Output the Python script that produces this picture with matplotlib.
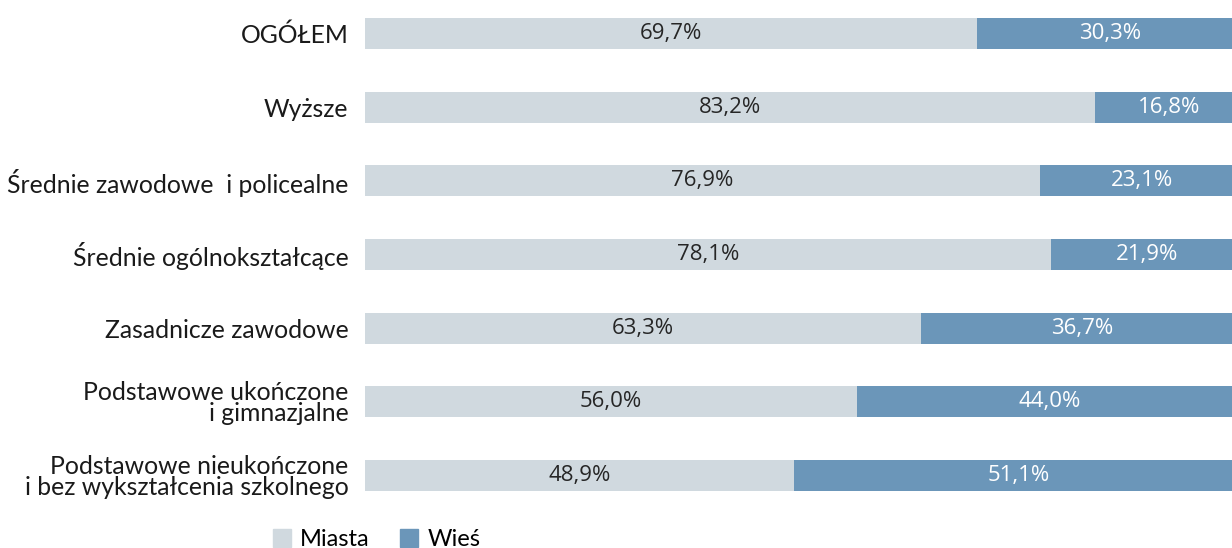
import matplotlib
matplotlib.use("Agg")
import matplotlib.pyplot as plt
from matplotlib.patches import Patch

categories = ["OGÓŁEM", "Wyższe", "Średnie zawodowe  i policealne",
              "Średnie ogólnokształcące", "Zasadnicze zawodowe",
              "Podstawowe ukończone\ni gimnazjalne",
              "Podstawowe nieukończone\ni bez wykształcenia szkolnego"]
miasta = [69.7, 83.2, 76.9, 78.1, 63.3, 56.0, 48.9]
wies = [30.3, 16.8, 23.1, 21.9, 36.7, 44.0, 51.1]
series_names = ["Miasta", "Wieś"]

c_light = "#d0d9df"
c_dark = "#6b96b9"

plt.rcParams['font.family'] = ['Lato', 'DejaVu Sans']

fig = plt.figure(figsize=(12.32, 5.48), dpi=100)
# bars run past the right edge of the picture, as in the original
ax = fig.add_axes([365 / 1232, 1 - 491 / 548, 878 / 1232, (491 - 18) / 548])

ypos = list(range(len(categories)))
ax.barh(ypos, miasta, height=0.42, color=c_light)
ax.barh(ypos, wies, left=miasta, height=0.42, color=c_dark)

def fmt(v):
    return ("%.1f%%" % v).replace(".", ",")

for y, m, w in zip(ypos, miasta, wies):
    ax.text(m / 2, y, fmt(m), ha="center", va="center", fontsize=16,
            color="#262626", family=['Open Sans', 'DejaVu Sans'])
    ax.text(m + w / 2, y, fmt(w), ha="center", va="center", fontsize=16,
            color="white", family=['Open Sans', 'DejaVu Sans'])

ax.set_xlim(0, 100)
ax.set_ylim(len(categories) - 1 + 0.21, -0.21)
ax.set_yticks(ypos)
ax.set_yticklabels(categories, fontsize=17.8, color="#1a1a1a", linespacing=0.92)
ax.tick_params(axis="y", length=0, pad=12)
ax.set_xticks([])
for s in ax.spines.values():
    s.set_visible(False)

handles = [Patch(color=c_light), Patch(color=c_dark)]
fig.legend(handles, series_names, loc="lower left", bbox_to_anchor=(273 / 1232, -0.004),
           ncol=2, frameon=False, fontsize=17, handlelength=0.75, handleheight=0.75,
           columnspacing=1.3, handletextpad=0.4, borderaxespad=0, borderpad=0)

fig.savefig("out.png", dpi=100)
